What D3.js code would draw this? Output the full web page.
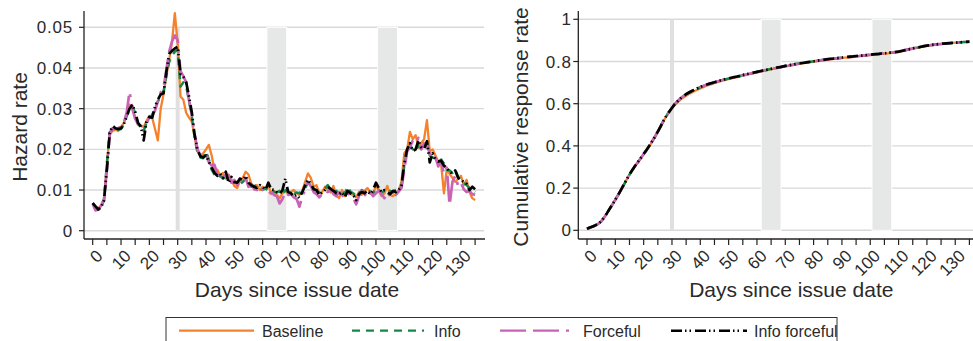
<!DOCTYPE html>
<html>
<head>
<meta charset="utf-8">
<script src="https://cdn.jsdelivr.net/npm/d3@7"></script>
<style>
  body { margin: 0; background: #fff; }
  svg { display: block; font-family: "Liberation Sans", Arial, Helvetica, sans-serif; }
</style>
</head>
<body>
<svg id="chart" width="973" height="341"></svg>
<script>
// Days since issue date (x categories)
const days = d3.range(0, 136);

// Daily hazard rates
const hazardBaseline = [
  .0065,.0058,.0055,.0062,.0078,.0160,.0238,.0245,.0248,.0245,
  .0255,.0265,.0285,.0310,.0300,.0280,.0262,.0258,.0255,.0270,
  .0282,.0278,.0250,.0222,.0300,.0335,.0380,.0420,.0465,.0535,
  .0460,.0330,.0322,.0290,.0278,.0268,.0230,.0195,.0185,.0190,
  .0200,.0211,.0185,.0148,.0150,.0135,.0142,.0128,.0138,.0125,
  .0110,.0105,.0122,.0130,.0145,.0138,.0115,.0105,.0112,.0100,
  .0108,.0104,.0112,.0090,.0098,.0088,.0080,.0092,.0098,.0090,
  .0095,.0100,.0092,.0088,.0098,.0120,.0141,.0130,.0108,.0112,
  .0092,.0095,.0108,.0100,.0094,.0110,.0086,.0080,.0100,.0085,
  .0095,.0090,.0088,.0082,.0095,.0088,.0098,.0105,.0094,.0088,
  .0112,.0098,.0085,.0092,.0110,.0088,.0085,.0090,.0100,.0120,
  .0190,.0200,.0243,.0225,.0235,.0205,.0215,.0225,.0272,.0195,
  .0200,.0185,.0170,.0165,.0092,.0150,.0140,.0130,.0120,.0128,
  .0135,.0112,.0125,.0095,.0080,.0075
];
const hazardInfo = [
  .0068,.0058,.0054,.0060,.0074,.0165,.0242,.0250,.0255,.0248,
  .0250,.0262,.0282,.0298,.0305,.0290,.0262,.0255,.0245,.0265,
  .0278,.0285,.0300,.0318,.0330,.0342,.0380,.0415,.0430,.0440,
  .0445,.0354,.0365,.0355,.0320,.0280,.0228,.0192,.0180,.0178,
  .0195,.0175,.0150,.0138,.0130,.0135,.0128,.0132,.0125,.0120,
  .0118,.0122,.0115,.0120,.0128,.0112,.0108,.0110,.0112,.0106,
  .0100,.0104,.0098,.0100,.0096,.0094,.0098,.0090,.0100,.0095,
  .0098,.0090,.0094,.0092,.0100,.0105,.0118,.0112,.0104,.0098,
  .0094,.0100,.0104,.0112,.0100,.0095,.0098,.0092,.0102,.0090,
  .0108,.0096,.0092,.0085,.0092,.0100,.0094,.0102,.0096,.0092,
  .0105,.0100,.0094,.0098,.0092,.0098,.0094,.0100,.0098,.0108,
  .0160,.0195,.0210,.0200,.0195,.0210,.0200,.0208,.0215,.0185,
  .0180,.0178,.0168,.0175,.0165,.0150,.0148,.0142,.0150,.0132,
  .0122,.0118,.0112,.0105,.0100,.0095
];
const hazardForceful = [
  .0066,.0050,.0052,.0062,.0078,.0150,.0235,.0252,.0250,.0252,
  .0256,.0265,.0290,.0342,.0300,.0275,.0262,.0258,.0255,.0262,
  .0280,.0282,.0295,.0318,.0340,.0350,.0395,.0440,.0465,.0480,
  .0468,.0392,.0380,.0365,.0320,.0285,.0236,.0200,.0185,.0182,
  .0190,.0168,.0160,.0162,.0138,.0132,.0140,.0125,.0135,.0118,
  .0125,.0112,.0128,.0118,.0130,.0108,.0115,.0102,.0100,.0110,
  .0102,.0095,.0090,.0095,.0088,.0085,.0067,.0078,.0095,.0088,
  .0090,.0082,.0078,.0059,.0085,.0100,.0120,.0110,.0095,.0090,
  .0082,.0090,.0098,.0095,.0102,.0090,.0085,.0095,.0088,.0080,
  .0092,.0088,.0080,.0065,.0085,.0098,.0090,.0080,.0095,.0085,
  .0092,.0098,.0090,.0080,.0095,.0085,.0092,.0088,.0096,.0105,
  .0150,.0195,.0205,.0222,.0215,.0228,.0200,.0215,.0210,.0190,
  .0175,.0180,.0158,.0170,.0140,.0155,.0063,.0120,.0135,.0110,
  .0118,.0102,.0095,.0098,.0090,.0088
];
const hazardInfoForceful = [
  .0068,.0060,.0052,.0058,.0075,.0150,.0240,.0258,.0252,.0250,
  .0252,.0262,.0280,.0300,.0310,.0292,.0265,.0256,.0222,.0268,
  .0280,.0278,.0305,.0322,.0335,.0338,.0390,.0435,.0442,.0448,
  .0452,.0385,.0378,.0365,.0330,.0290,.0235,.0198,.0183,.0180,
  .0185,.0170,.0155,.0142,.0135,.0140,.0130,.0145,.0118,.0132,
  .0120,.0118,.0128,.0125,.0135,.0118,.0112,.0108,.0105,.0112,
  .0108,.0100,.0118,.0102,.0100,.0095,.0090,.0100,.0128,.0095,
  .0092,.0084,.0088,.0080,.0095,.0112,.0125,.0115,.0102,.0100,
  .0088,.0094,.0100,.0108,.0103,.0098,.0092,.0090,.0095,.0082,
  .0098,.0092,.0088,.0075,.0090,.0095,.0092,.0098,.0090,.0100,
  .0118,.0105,.0095,.0100,.0095,.0090,.0098,.0095,.0100,.0110,
  .0165,.0200,.0215,.0195,.0200,.0222,.0205,.0200,.0220,.0168,
  .0190,.0175,.0170,.0172,.0160,.0155,.0145,.0140,.0148,.0130,
  .0125,.0120,.0115,.0100,.0108,.0102
];

// Cumulative response rates
const cumBaseline = [
  .007,.013,.018,.024,.031,.042,.060,.079,.101,.122,
  .144,.167,.191,.215,.240,.264,.284,.304,.323,.341,
  .360,.378,.398,.419,.442,.466,.491,.518,.540,.560,
  .578,.594,.607,.619,.629,.638,.646,.653,.660,.666,
  .672,.678,.684,.689,.693,.698,.702,.706,.710,.713,
  .717,.720,.723,.726,.729,.733,.736,.739,.742,.745,
  .748,.751,.754,.757,.760,.763,.766,.769,.771,.774,
  .777,.779,.782,.784,.787,.789,.791,.793,.795,.797,
  .799,.801,.803,.805,.807,.809,.810,.812,.813,.815,
  .816,.818,.819,.820,.822,.823,.825,.826,.827,.829,
  .830,.832,.833,.834,.836,.837,.838,.840,.841,.843,
  .845,.848,.851,.854,.857,.860,.863,.866,.869,.872,
  .874,.876,.878,.880,.881,.883,.884,.886,.887,.888,
  .889,.890,.891,.892,.893,.894
];
const cumInfo = [
  .007,.013,.018,.024,.031,.042,.060,.080,.102,.123,
  .145,.168,.191,.215,.240,.264,.285,.305,.323,.342,
  .361,.380,.400,.421,.443,.467,.492,.518,.541,.561,
  .579,.597,.611,.624,.635,.644,.652,.659,.666,.672,
  .678,.683,.688,.692,.696,.700,.704,.708,.712,.716,
  .719,.722,.725,.728,.731,.735,.738,.741,.744,.747,
  .750,.753,.756,.759,.762,.765,.768,.771,.773,.776,
  .779,.781,.784,.786,.789,.791,.793,.795,.797,.799,
  .801,.803,.805,.807,.809,.811,.812,.814,.815,.817,
  .818,.820,.821,.822,.824,.825,.827,.828,.829,.831,
  .832,.834,.835,.836,.838,.839,.840,.842,.843,.845,
  .847,.850,.853,.856,.859,.862,.865,.867,.870,.873,
  .875,.877,.879,.881,.882,.884,.885,.886,.887,.888,
  .889,.890,.891,.892,.893,.894
];
const cumForceful = [
  .007,.012,.017,.023,.031,.042,.060,.080,.102,.123,
  .145,.168,.192,.217,.241,.265,.286,.306,.324,.343,
  .362,.381,.401,.422,.444,.468,.493,.519,.542,.563,
  .581,.599,.613,.626,.636,.645,.653,.660,.667,.673,
  .679,.684,.689,.693,.697,.701,.705,.709,.713,.716,
  .720,.723,.726,.729,.732,.735,.738,.741,.744,.747,
  .750,.753,.756,.759,.762,.764,.767,.770,.772,.775,
  .778,.780,.783,.785,.788,.790,.793,.795,.797,.799,
  .801,.803,.805,.807,.809,.810,.812,.813,.815,.816,
  .818,.819,.821,.822,.823,.825,.826,.828,.829,.830,
  .832,.833,.835,.836,.837,.839,.840,.841,.843,.844,
  .847,.850,.853,.856,.859,.862,.865,.867,.870,.873,
  .875,.877,.879,.880,.882,.883,.885,.886,.887,.888,
  .889,.890,.891,.892,.893,.894
];
const cumInfoForceful = [
  .007,.013,.018,.024,.031,.042,.060,.080,.102,.123,
  .145,.168,.192,.216,.241,.265,.286,.306,.324,.343,
  .362,.381,.401,.422,.444,.468,.493,.519,.542,.562,
  .580,.598,.612,.625,.636,.645,.653,.660,.667,.673,
  .679,.685,.690,.694,.698,.702,.706,.710,.713,.717,
  .720,.723,.726,.729,.732,.736,.739,.742,.745,.748,
  .751,.754,.757,.760,.762,.765,.768,.771,.773,.776,
  .779,.781,.784,.786,.789,.791,.793,.795,.797,.799,
  .801,.803,.805,.807,.809,.811,.813,.814,.816,.817,
  .819,.820,.822,.823,.824,.826,.827,.828,.830,.831,
  .832,.834,.835,.836,.838,.839,.840,.842,.843,.845,
  .847,.850,.853,.856,.859,.862,.865,.867,.870,.873,
  .875,.877,.879,.881,.882,.884,.885,.886,.887,.888,
  .889,.890,.891,.892,.893,.894
];

const seriesNames = ['Baseline', 'Info', 'Forceful', 'Info forceful'];
const hazardTicks = [0, 0.01, 0.02, 0.03, 0.04, 0.05];
const cumTicks = [0, 0.2, 0.4, 0.6, 0.8, 1];
const dayTicks = d3.range(0, 136, 5);
const dayLabels = d3.range(0, 131, 10);
const markerDay = 30;
const shadedSpans = [[61.5, 68.5], [100.6, 107.6]];

const styles = [
  { color: '#f5822a', dash: null, width: 2.3 },
  { color: '#138a4a', dash: '8,6', width: 2.5 },
  { color: '#c963b5', dash: '26,7,26,7,3,7', width: 2.7 },
  { color: '#000000', dash: '11,3,1.5,3,1.5,4', width: 2.7 }
];

const svg = d3.select('#chart');
const gridColor = '#d9d9d9';
const axisColor = '#222';

const panels = [
  {
    left: 84, title: 'Hazard rate', titleX: 26.5, labelGap: 11,
    y: d3.scaleLinear().domain([0, 0.05]).range([230.7, 27.3]),
    ticks: hazardTicks, fmt: d => d === 0 ? '0' : d3.format('.2f')(d),
    series: [hazardBaseline, hazardInfo, hazardForceful, hazardInfoForceful]
  },
  {
    left: 578.3, title: 'Cumulative response rate', titleX: 527.5, labelGap: 6.5,
    y: d3.scaleLinear().domain([0, 1]).range([230.3, 19.3]),
    ticks: cumTicks, fmt: d => (d === 0 || d === 1) ? String(d) : d3.format('.1f')(d),
    series: [cumBaseline, cumInfo, cumForceful, cumInfoForceful]
  }
];

const plotTop = 11, plotBottom = 239, plotWidth = 400;

panels.forEach(p => {
  const g = svg.append('g');
  const x = d3.scaleLinear().domain([0, 135]).range([p.left + 8.7, p.left + 391.1]);
  const yTop = p.y(p.ticks[p.ticks.length - 1]);
  const yBot = p.y(0);

  // Horizontal gridlines
  g.append('g').selectAll('line')
    .data(p.ticks)
    .enter()
    .append('line')
    .attr('x1', p.left).attr('x2', p.left + plotWidth)
    .attr('y1', d => p.y(d)).attr('y2', d => p.y(d))
    .attr('stroke', gridColor)
    .attr('stroke-width', 1.4);

  // Shaded periods
  g.append('g').selectAll('rect')
    .data(shadedSpans)
    .enter()
    .append('rect')
    .attr('x', d => x(d[0]))
    .attr('width', d => x(d[1]) - x(d[0]))
    .attr('y', yTop)
    .attr('height', yBot - yTop)
    .attr('fill', '#e6e7e7')
    .attr('stroke', '#fff')
    .attr('stroke-width', 1);

  // Reference line at day 30
  g.append('line')
    .attr('x1', x(markerDay)).attr('x2', x(markerDay))
    .attr('y1', yTop).attr('y2', yBot)
    .attr('stroke', '#e0e0e0')
    .attr('stroke-width', 4);

  // Series lines
  const line = d3.line()
    .x((d, i) => x(days[i]))
    .y(d => p.y(d));

  p.series.forEach((vals, i) => {
    const s = styles[i];
    g.append('path')
      .datum(vals)
      .attr('d', line)
      .attr('fill', 'none')
      .attr('stroke', s.color)
      .attr('stroke-width', s.width)
      .attr('stroke-dasharray', s.dash)
      .attr('stroke-linejoin', 'round');
  });

  // Y axis
  g.append('line')
    .attr('x1', p.left).attr('x2', p.left)
    .attr('y1', plotTop).attr('y2', plotBottom)
    .attr('stroke', axisColor).attr('stroke-width', 1.3);
  const yt = g.append('g').selectAll('g')
    .data(p.ticks)
    .enter()
    .append('g')
    .attr('transform', d => `translate(${p.left},${p.y(d)})`);
  yt.append('line').attr('x1', -5).attr('x2', 0).attr('stroke', axisColor).attr('stroke-width', 1.2);
  yt.append('text')
    .attr('x', -p.labelGap)
    .attr('dy', '0.36em')
    .attr('text-anchor', 'end')
    .style('font-size', '17px')
    .style('letter-spacing', '0.8px')
    .attr('fill', '#2a2a2a')
    .text(p.fmt);

  // X axis
  g.append('line')
    .attr('x1', p.left).attr('x2', p.left + plotWidth + 1)
    .attr('y1', plotBottom).attr('y2', plotBottom)
    .attr('stroke', axisColor).attr('stroke-width', 1.3);
  g.append('g').selectAll('line')
    .data(dayTicks)
    .enter()
    .append('line')
    .attr('x1', d => x(d)).attr('x2', d => x(d))
    .attr('y1', plotBottom).attr('y2', plotBottom + 6)
    .attr('stroke', axisColor).attr('stroke-width', 1.2);
  g.append('g').selectAll('text')
    .data(dayLabels)
    .enter()
    .append('text')
    .attr('transform', d => `translate(${x(d) + 11},${plotBottom + 18}) rotate(-45)`)
    .attr('text-anchor', 'end')
    .style('font-size', '17px')
    .attr('fill', '#2a2a2a')
    .text(d => d);

  // Axis titles
  g.append('text')
    .attr('x', p.left + 213)
    .attr('y', 297)
    .attr('text-anchor', 'middle')
    .style('font-size', '21px')
    .attr('fill', '#2a2a2a')
    .text('Days since issue date');
  g.append('text')
    .attr('transform', `translate(${p.titleX},127) rotate(-90)`)
    .attr('text-anchor', 'middle')
    .style('font-size', '21px')
    .attr('fill', '#2a2a2a')
    .text(p.title);
});

// Legend
const legend = svg.append('g');
legend.append('rect')
  .attr('x', 166).attr('y', 317.5)
  .attr('width', 671).attr('height', 40)
  .attr('fill', '#fff')
  .attr('stroke', '#333')
  .attr('stroke-width', 1);

const legendPos = [
  { x1: 179, x2: 254, tx: 262 },
  { x1: 352, x2: 424, tx: 434 },
  { x1: 500, x2: 575, tx: 583 },
  { x1: 671, x2: 747, tx: 754 }
];
seriesNames.forEach((name, i) => {
  const s = styles[i];
  const lp = legendPos[i];
  legend.append('line')
    .attr('x1', lp.x1).attr('x2', lp.x2)
    .attr('y1', 330.7).attr('y2', 330.7)
    .attr('stroke', s.color)
    .attr('stroke-width', i === 3 ? 2.4 : 2.2)
    .attr('stroke-dasharray', s.dash);
  legend.append('text')
    .attr('x', lp.tx).attr('y', 336.5)
    .style('font-size', '16px')
    .attr('fill', '#2a2a2a')
    .text(name);
});
</script>
</body>
</html>
